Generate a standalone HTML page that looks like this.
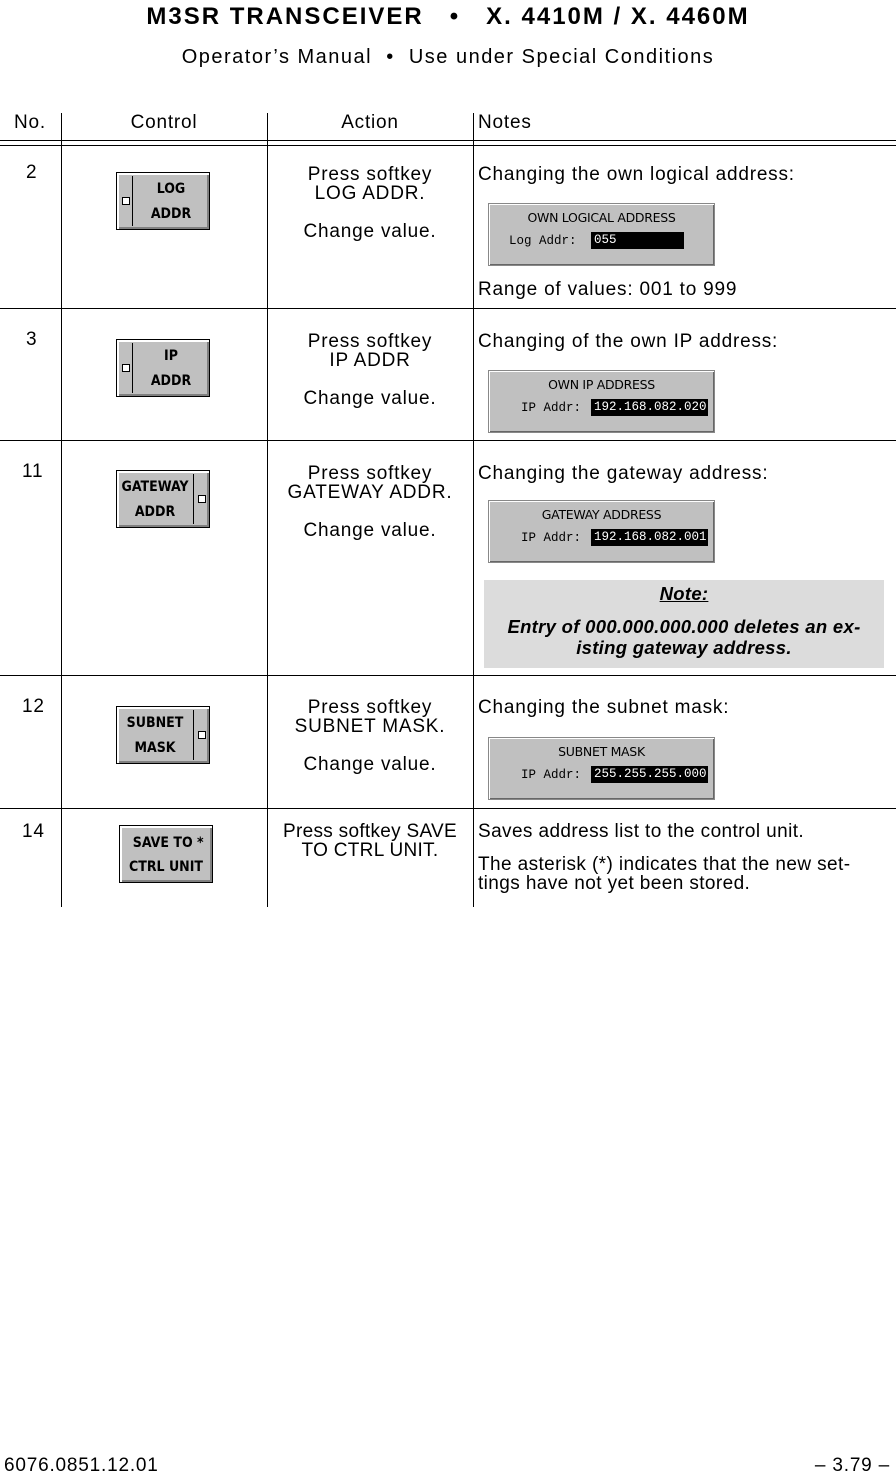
<!DOCTYPE html>
<html><head><meta charset="utf-8"><style>
body{margin:0;width:896px;height:1474px;background:#fff;position:relative;font-family:"Liberation Sans",Arial,sans-serif;color:#000;overflow:hidden}
.a{position:absolute}
.t{font-size:19px;line-height:19px;letter-spacing:0.8px;white-space:nowrap}
.c{text-align:center}
.hl{position:absolute;left:0;width:896px;height:1px;background:#000}
.vl{position:absolute;width:1px;background:#000;top:113px;height:794px}
.btn{position:absolute;width:92px;height:56px;background:#c0c0c0;border:1px solid #000;box-shadow:inset 2px 2px 0 #fff,inset -2px -2px 0 #808080;font-weight:bold;font-size:14px;font-family:"DejaVu Sans Condensed","Liberation Sans",sans-serif;}
.btn .l1,.btn .l2{position:absolute;text-align:center}
.led{position:absolute;width:6px;height:6px;border:1px solid #000;background:#fff;top:24px}
.sep{position:absolute;top:3px;bottom:3px;width:1px;background:#000}
.pnl{position:absolute;width:225px;height:61px;background:#c0c0c0;border:1px solid #888;box-shadow:inset 1px 1px 0 #fff,inset -1px -1px 0 #666;font-size:12px}
.pnl .ti{position:absolute;top:6px;left:0;width:225px;text-align:center;font-family:"DejaVu Sans","Liberation Sans",sans-serif;font-size:12.5px;letter-spacing:-0.3px}
.pnl .lb{position:absolute;top:30px;font-family:"Liberation Mono",monospace;font-size:12.5px}
.pnl .fld{position:absolute;top:28px;height:17px;background:#000;color:#fff;font-family:"Liberation Mono",monospace;font-size:12.5px;line-height:17px;padding-left:3px}
</style></head><body>
<div class="a c" style="left:0;width:896px;top:3px;font-size:24px;letter-spacing:2px;font-weight:bold;white-space:nowrap">M3SR TRANSCEIVER &nbsp; • &nbsp; X. 4410M / X. 4460M</div>
<div class="a c" style="left:0;width:896px;top:46px;font-size:20px;letter-spacing:1.5px;white-space:nowrap">Operator’s Manual &nbsp;•&nbsp; Use under Special Conditions</div>

<div class="a t" style="left:14px;top:113px">No.</div>
<div class="a t c" style="left:61px;width:206px;top:113px">Control</div>
<div class="a t c" style="left:267px;width:206px;top:113px">Action</div>
<div class="a t" style="left:478px;top:113px">Notes</div>

<div class="hl" style="top:140px"></div><div class="hl" style="top:145px"></div>
<div class="vl" style="left:61px"></div><div class="vl" style="left:267px"></div><div class="vl" style="left:473px"></div>
<div class="hl" style="top:308px"></div><div class="hl" style="top:440px"></div><div class="hl" style="top:675px"></div><div class="hl" style="top:808px"></div>

<!-- row 2 -->
<div class="a t" style="left:26px;top:163px">2</div>
<div class="btn" style="left:116px;top:172px"><div class="led" style="left:5px"></div><div class="sep" style="left:15px"></div><div class="l1" style="left:16px;width:76px;top:8px">LOG</div><div class="l2" style="left:16px;width:76px;top:33px">ADDR</div></div>
<div class="a t c" style="left:267px;width:206px;top:165px">Press softkey<br>LOG ADDR.<br><br>Change value.</div>
<div class="a t" style="left:478px;top:165px">Changing the own logical address:</div>
<div class="pnl" style="left:488px;top:203px"><div class="ti">OWN LOGICAL ADDRESS</div><div class="lb" style="left:20px">Log Addr:</div><div class="fld" style="left:102px;width:90px">055</div></div>
<div class="a t" style="left:478px;top:280px">Range of values: 001 to 999</div>

<!-- row 3 -->
<div class="a t" style="left:26px;top:330px">3</div>
<div class="btn" style="left:116px;top:339px"><div class="led" style="left:5px"></div><div class="sep" style="left:15px"></div><div class="l1" style="left:16px;width:76px;top:8px">IP</div><div class="l2" style="left:16px;width:76px;top:33px">ADDR</div></div>
<div class="a t c" style="left:267px;width:206px;top:332px">Press softkey<br>IP ADDR<br><br>Change value.</div>
<div class="a t" style="left:478px;top:332px">Changing of the own IP address:</div>
<div class="pnl" style="left:488px;top:370px"><div class="ti">OWN IP ADDRESS</div><div class="lb" style="left:32px">IP Addr:</div><div class="fld" style="left:102px;width:114px">192.168.082.020</div></div>

<!-- row 11 -->
<div class="a t" style="left:22px;top:462px">11</div>
<div class="btn" style="left:116px;top:470px"><div class="sep" style="left:76px"></div><div class="led" style="left:81px"></div><div class="l1" style="left:0;width:76px;top:8px">GATEWAY</div><div class="l2" style="left:0;width:76px;top:33px">ADDR</div></div>
<div class="a t c" style="left:267px;width:206px;top:464px">Press softkey<br>GATEWAY ADDR.<br><br>Change value.</div>
<div class="a t" style="left:478px;top:464px">Changing the gateway address:</div>
<div class="pnl" style="left:488px;top:500px"><div class="ti">GATEWAY ADDRESS</div><div class="lb" style="left:32px">IP Addr:</div><div class="fld" style="left:102px;width:114px">192.168.082.001</div></div>
<div class="a c" style="left:484px;top:580px;width:400px;height:88px;background:#dcdcdc;font-style:italic;font-weight:bold;font-size:18.5px;letter-spacing:0.3px;line-height:21px;white-space:nowrap"><div style="margin-top:3px;text-decoration:underline">Note:</div><div style="margin-top:12px">Entry of 000.000.000.000 deletes an ex-<br>isting gateway address.</div></div>

<!-- row 12 -->
<div class="a t" style="left:22px;top:697px">12</div>
<div class="btn" style="left:116px;top:706px"><div class="sep" style="left:76px"></div><div class="led" style="left:81px"></div><div class="l1" style="left:0;width:76px;top:8px">SUBNET</div><div class="l2" style="left:0;width:76px;top:33px">MASK</div></div>
<div class="a t c" style="left:267px;width:206px;top:698px">Press softkey<br>SUBNET MASK.<br><br>Change value.</div>
<div class="a t" style="left:478px;top:698px">Changing the subnet mask:</div>
<div class="pnl" style="left:488px;top:737px"><div class="ti">SUBNET MASK</div><div class="lb" style="left:32px">IP Addr:</div><div class="fld" style="left:102px;width:114px">255.255.255.000</div></div>

<!-- row 14 -->
<div class="a t" style="left:22px;top:822px">14</div>
<div class="btn" style="left:119px;top:825px"><div class="l1" style="left:0;width:92px;top:9px">&nbsp;SAVE TO *</div><div class="l2" style="left:0;width:92px;top:33px">CTRL UNIT</div></div>
<div class="a t c" style="left:267px;width:206px;top:822px;letter-spacing:0.3px">Press softkey SAVE<br>TO CTRL UNIT.</div>
<div class="a t" style="left:478px;top:822px;letter-spacing:0.4px">Saves address list to the control unit.</div>
<div class="a t" style="left:478px;top:855px;letter-spacing:0.4px">The asterisk (*) indicates that the new set-<br>tings have not yet been stored.</div>

<div class="a t" style="left:4px;top:1456px">6076.0851.12.01</div>
<div class="a t" style="right:6px;top:1456px">– 3.79 –</div>
</body></html>
